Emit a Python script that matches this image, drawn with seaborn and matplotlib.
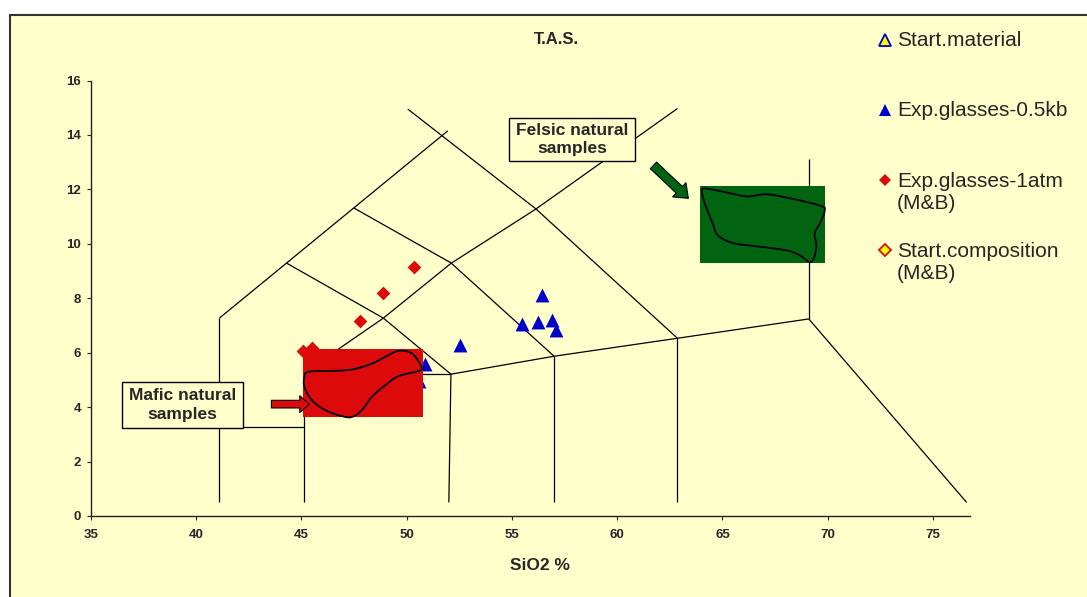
import matplotlib
matplotlib.use("Agg")
import matplotlib.pyplot as plt
import matplotlib.patches as mpatches
from matplotlib.lines import Line2D
import numpy as np
import pandas as pd
import seaborn as sns

# experimental glasses (SiO2 %, Na2O+K2O %)
glass_05kb_sio2 = [56.44, 55.46, 56.25, 56.89, 57.08, 52.52, 50.86, 50.57]
glass_05kb_alk = [8.11, 7.07, 7.13, 7.19, 6.83, 6.28, 5.58, 4.95]
glass_1atm_sio2 = [50.33, 48.86, 47.76, 45.05, 45.48]
glass_1atm_alk = [9.14, 8.18, 7.16, 6.06, 6.17]

legend_labels = ["Start.material", "Exp.glasses-0.5kb",
                 "Exp.glasses-1atm\n(M&B)", "Start.composition\n(M&B)"]

# T.A.S. field boundaries as drawn
tas_lines = [
    ([41.1, 41.1], [0.5, 7.27]),
    ([41.1, 45.1], [3.27, 3.27]),
    ([45.1, 45.1], [0.5, 5.21]),
    ([45.1, 52.1], [5.21, 5.21]),
    ([52.0, 52.1], [0.5, 5.21]),
    ([57.0, 57.0], [0.5, 5.87]),
    ([62.86, 62.86], [0.5, 6.53]),
    ([52.1, 57.0, 62.86, 69.1], [5.21, 5.87, 6.53, 7.24]),
    ([69.1, 76.6], [7.24, 0.5]),
    ([69.1, 69.1], [7.24, 13.1]),
    ([41.1, 51.95], [7.27, 14.15]),
    ([44.27, 48.89, 52.1], [9.3, 7.27, 5.21]),
    ([47.48, 52.1, 57.0], [11.32, 9.3, 5.87]),
    ([50.05, 56.14, 62.86], [14.95, 11.28, 6.53]),
    ([45.1, 48.89, 52.1, 56.14, 62.86], [5.25, 7.27, 9.28, 11.28, 14.97]),
]

# natural sample fields
mafic_x = [45.14, 45.33, 46.44, 47.40, 48.35, 48.99, 49.62, 50.25, 50.70, 50.57,
           49.62, 48.99, 48.35, 47.87, 47.40, 46.92, 46.13, 45.49, 45.14]
mafic_y = [5.11, 5.30, 5.33, 5.38, 5.60, 5.85, 6.07, 5.97, 5.48, 5.33,
           5.14, 4.81, 4.38, 3.89, 3.64, 3.67, 3.89, 4.26, 4.74]
felsic_x = [64.10, 64.54, 65.49, 66.20, 67.08, 68.03, 69.62, 69.86, 69.62, 69.38,
            69.46, 69.22, 68.67, 68.03, 66.60, 65.49, 64.78, 64.54, 64.14, 64.03]
felsic_y = [12.03, 11.99, 11.84, 11.74, 11.82, 11.70, 11.41, 11.23, 10.74, 10.38,
            9.88, 9.33, 9.58, 9.76, 9.91, 10.03, 10.31, 10.74, 11.53, 11.90]

BG = "#FFFFCC"
BLUE = "#0000CC"
RED = "#DC0A0A"
GREEN = "#006411"


def smooth_closed(xs, ys, n=12):
    pts = np.column_stack([xs, ys])
    out = []
    N = len(pts)
    for i in range(N):
        p0, p1, p2, p3 = pts[i - 1], pts[i], pts[(i + 1) % N], pts[(i + 2) % N]
        for t in np.linspace(0, 1, n, endpoint=False):
            t2, t3 = t * t, t * t * t
            out.append(0.5 * (2 * p1 + (-p0 + p2) * t
                              + (2 * p0 - 5 * p1 + 4 * p2 - p3) * t2
                              + (-p0 + 3 * p1 - 3 * p2 + p3) * t3))
    return np.array(out)


sns.set_style("ticks")
plt.rcParams['font.family'] = ['Liberation Sans', 'DejaVu Sans']

W, H = 1087, 597
fig = plt.figure(figsize=(W / 100, H / 100), dpi=100)
fig.patch.set_facecolor("white")
fig.add_artist(mpatches.Rectangle((10 / W, -0.1), 1.2, 1.1 - 15 / H,
                                  transform=fig.transFigure, facecolor=BG,
                                  edgecolor="#333333", lw=1.5, zorder=0))

ax = fig.add_axes([91 / W, 1 - 516 / H, (970 - 91) / W, (516 - 80.5) / H])
ax.set_facecolor("none")
ax.set_xlim(35, 76.76)
ax.set_ylim(0, 16)

for xs, ys in tas_lines:
    ax.plot(xs, ys, color="black", lw=0.9, zorder=1, solid_capstyle="butt")

df05 = pd.DataFrame({"SiO2": glass_05kb_sio2, "alk": glass_05kb_alk})
df1 = pd.DataFrame({"SiO2": glass_1atm_sio2, "alk": glass_1atm_alk})
sns.scatterplot(data=df05, x="SiO2", y="alk", marker="^", s=100, color=BLUE,
                edgecolor=BLUE, linewidth=0, ax=ax, zorder=2)
sns.scatterplot(data=df1, x="SiO2", y="alk", marker="D", s=49, color=RED,
                edgecolor=RED, linewidth=0, ax=ax, zorder=2)

# coloured sample fields
ax.add_patch(mpatches.Rectangle((45.05, 3.62), 5.71, 2.51, facecolor=RED,
                                edgecolor="none", zorder=3))
ax.add_patch(mpatches.Rectangle((63.95, 9.30), 5.94, 2.81, facecolor=GREEN,
                                edgecolor="none", zorder=3))
for xs, ys in [(mafic_x, mafic_y), (felsic_x, felsic_y)]:
    ax.add_patch(mpatches.Polygon(smooth_closed(xs, ys), closed=True, fill=False,
                                  edgecolor="black", lw=1.3, zorder=4))

# label boxes
boxes = [((36.48, 3.23, 5.76, 1.69), "Mafic natural\nsamples"),
         ((54.86, 13.03, 6.0, 1.61), "Felsic natural\nsamples")]
for (x0, y0, w, h), txt in boxes:
    ax.add_patch(mpatches.Rectangle((x0, y0), w, h, facecolor=BG,
                                    edgecolor="black", lw=1.0, zorder=5))
    ax.text(x0 + w / 2, y0 + h / 2, txt, ha="center", va="center", fontsize=12.5,
            fontweight="bold", linespacing=1.3, zorder=6)

# arrows
ax.add_patch(mpatches.FancyArrowPatch(
    (43.57, 4.11), (45.38, 4.11), mutation_scale=1, shrinkA=0, shrinkB=0,
    arrowstyle="simple,head_length=7,head_width=12,tail_width=5.5",
    facecolor=RED, edgecolor="black", lw=0.8, zorder=6))
ax.add_patch(mpatches.FancyArrowPatch(
    (61.72, 12.88), (63.38, 11.67), mutation_scale=1, shrinkA=0, shrinkB=0,
    arrowstyle="simple,head_length=9,head_width=14,tail_width=6.5",
    facecolor=GREEN, edgecolor="black", lw=0.8, zorder=6))

sns.despine(ax=ax)
for side in ["left", "bottom"]:
    ax.spines[side].set_color("#222222")
    ax.spines[side].set_linewidth(1.0)
ax.set_xticks(range(35, 80, 5))
ax.set_yticks(range(0, 18, 2))
ax.tick_params(axis="x", direction="out", length=3, width=0.8, pad=6.5, labelsize=9.5)
ax.tick_params(axis="y", direction="out", length=3, width=0.8, pad=4, labelsize=9.5)
for lab in ax.get_xticklabels() + ax.get_yticklabels():
    lab.set_fontweight("bold")
ax.set_xlabel("")
ax.set_ylabel("")

fig.text(556 / W, 1 - 40 / H, "T.A.S.", ha="center", va="center",
         fontsize=12, fontweight="bold")
fig.text(540 / W, 1 - 565 / H, "SiO2 %", ha="center", va="center",
         fontsize=12.5, fontweight="bold")

# legend
legend_markers = [
    dict(marker="^", ms=9, mfc="#FFFF00", mec=BLUE, mew=1.3),
    dict(marker="^", ms=9, mfc=BLUE, mec=BLUE, mew=0),
    dict(marker="D", ms=6.5, mfc=RED, mec=RED, mew=0),
    dict(marker="D", ms=6, mfc="#FFFF00", mec=RED, mew=1.3),
]
legend_y = [40, 110, 180, 250]
for lab, mk, yy in zip(legend_labels, legend_markers, legend_y):
    fig.add_artist(Line2D([885 / W], [1 - yy / H], transform=fig.transFigure,
                          linestyle="none", **mk))
    nlines = lab.count("\n") + 1
    yc = yy + (nlines - 1) * 12.5
    fig.text(897 / W, 1 - yc / H, lab, ha="left", va="center", fontsize=15,
             linespacing=1.25)

fig.savefig("out.png", dpi=100, facecolor=fig.get_facecolor())
